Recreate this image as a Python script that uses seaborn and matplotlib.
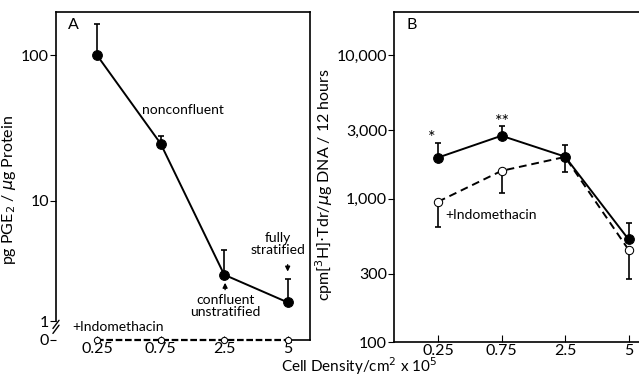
import numpy as np
import pandas as pd
import matplotlib
matplotlib.use("Agg")
import matplotlib.pyplot as plt
import seaborn as sns

# data
density_labels = ["0.25", "0.75", "2.5", "5"]
pge2_control = [100, 24.7, 3.1, 2.0]
pge2_control_err = [63, 3.0, 1.5, 0.9]
pge2_indo = [0, 0, 0, 0]
tdr_control = [1930, 2740, 1960, 520]
tdr_control_err = [520, 470, 410, 160]
tdr_indo = [950, 1560, 1950, 440]
tdr_indo_err = [320, 460, 430, 165]

pos = np.arange(len(density_labels))
dfA = pd.DataFrame({"pos": pos, "control": pge2_control, "indo": pge2_indo})
dfB = pd.DataFrame({"pos": pos, "control": tdr_control, "indo": tdr_indo})

sns.set_style("ticks")
plt.rcParams["font.family"] = ["Lato", "DejaVu Sans"]
plt.rcParams["axes.linewidth"] = 1.2
for k in ["text.color", "axes.labelcolor", "xtick.color", "ytick.color", "axes.edgecolor"]:
    plt.rcParams[k] = "black"

# broken log scale for panel A: log above 2, compressed linear part down to 0
def fwd(v):
    v = np.asarray(v, dtype=float)
    return np.where(v >= 2, np.log10(np.maximum(v, 2)), 0.043 + 0.129 * v)

def inv(t):
    t = np.asarray(t, dtype=float)
    return np.where(t >= np.log10(2), 10 ** np.minimum(t, 10), (t - 0.043) / 0.129)

fig = plt.figure(figsize=(6.39, 3.79), dpi=100)
axA = fig.add_axes([0.0876, 0.103, 0.398, 0.865])
axB = fig.add_axes([0.6166, 0.0976, 0.3834, 0.871])

# ---- panel A
sns.lineplot(data=dfA, x="pos", y="control", ax=axA, color="black", lw=1.4,
             marker="o", markersize=7, markeredgecolor="black")
axA.errorbar(pos, pge2_control, yerr=[np.zeros(4), pge2_control_err], fmt="none",
             ecolor="black", elinewidth=1.2, capsize=2.5, capthick=1.2)
sns.lineplot(data=dfA, x="pos", y="indo", ax=axA, color="black", lw=1.6,
             linestyle=(0, (3, 1.2)), marker="o", markersize=4.5,
             markerfacecolor="white", markeredgecolor="black", clip_on=False, zorder=5)
axA.set_yscale("function", functions=(fwd, inv))
axA.set_ylim(0, 198)
axA.set_xlim(-0.646, 3.354)
axA.set_yticks([0, 1, 10, 100])
axA.set_yticklabels(["0", "1", "10", "100"])
axA.yaxis.set_minor_locator(matplotlib.ticker.NullLocator())
axA.set_xticks(pos)
axA.set_xticklabels(density_labels)
axA.tick_params(axis="x", direction="in", length=3, labelsize=11.5, pad=1.5)
axA.tick_params(axis="y", direction="out", length=4, labelsize=11.5, pad=1)
axA.spines["left"].set_bounds(1, 198)
axA.spines["bottom"].set_bounds(3, 3.354)
axA.set_xlabel("")
axA.set_ylabel("pg PGE$_2$ / $\\mu$g Protein", fontsize=11.5)
axA.yaxis.set_label_coords(-0.15, 0.457)
# break marks
axA.plot([-0.012, 0.012], [0.035, 0.06], color="black", lw=1, transform=axA.transAxes, clip_on=False)
axA.plot([-0.012, 0.012], [0.02, 0.045], color="black", lw=1, transform=axA.transAxes, clip_on=False)

axA.text(0.047, 0.96, "A", transform=axA.transAxes, fontsize=11.5, ha="left", va="center")
axA.text(0.5, 0.701, "nonconfluent", transform=axA.transAxes, fontsize=10, ha="center", va="center")
axA.text(0.665, 0.104, "confluent\nunstratified", transform=axA.transAxes, fontsize=10,
         ha="center", va="center", linespacing=1.0)
axA.annotate("", xy=(0.665, 0.183), xytext=(0.665, 0.145), xycoords="axes fraction",
             arrowprops=dict(arrowstyle="-|>", color="black", lw=1, mutation_scale=7))
axA.text(0.874, 0.293, "fully\nstratified", transform=axA.transAxes, fontsize=10,
         ha="center", va="center", linespacing=1.0)
axA.annotate("", xy=(0.911, 0.2), xytext=(0.911, 0.238), xycoords="axes fraction",
             arrowprops=dict(arrowstyle="-|>", color="black", lw=1, mutation_scale=7))
axA.text(0.244, 0.04, "+Indomethacin", transform=axA.transAxes, fontsize=10,
         ha="center", va="center")

# ---- panel B
sns.lineplot(data=dfB, x="pos", y="control", ax=axB, color="black", lw=1.4,
             marker="o", markersize=7, markeredgecolor="black", zorder=4)
axB.errorbar(pos, tdr_control, yerr=[np.zeros(4), tdr_control_err], fmt="none",
             ecolor="black", elinewidth=1.2, capsize=2.5, capthick=1.2)
sns.lineplot(data=dfB, x="pos", y="indo", ax=axB, color="black", lw=1.4,
             linestyle=(0, (4, 2.5)), marker="o", markersize=6,
             markerfacecolor="white", markeredgecolor="black", zorder=3)
axB.errorbar(pos, tdr_indo, yerr=[tdr_indo_err, np.zeros(4)], fmt="none",
             ecolor="black", elinewidth=1.2, capsize=2.5, capthick=1.2)
axB.set_yscale("log")
axB.set_ylim(100, 20000)
axB.set_xlim(-0.693, 3.165)
axB.set_yticks([100, 300, 1000, 3000, 10000])
axB.set_yticklabels(["100", "300", "1,000", "3,000", "10,000"])
axB.yaxis.set_minor_locator(matplotlib.ticker.NullLocator())
axB.set_xticks(pos)
axB.set_xticklabels(density_labels)
axB.tick_params(axis="x", direction="in", length=5, labelsize=11.5, pad=1.5)
axB.tick_params(axis="y", direction="out", length=4, labelsize=11.5, pad=1)
axB.spines["right"].set_visible(False)
axB.set_xlabel("")
axB.set_ylabel("cpm[$^3$H]$\\cdot$Tdr/$\\mu$g DNA / 12 hours", fontsize=11.5)
axB.yaxis.set_label_coords(-0.24, 0.476)

axB.text(0.049, 0.96, "B", transform=axB.transAxes, fontsize=11.5, ha="left", va="center")
axB.text(0.155, 0.618, "*", transform=axB.transAxes, fontsize=13, ha="center", va="center")
axB.text(0.441, 0.666, "**", transform=axB.transAxes, fontsize=13, ha="center", va="center")
axB.text(0.208, 0.385, "+Indomethacin", transform=axB.transAxes, fontsize=10,
         ha="left", va="center")

fig.text(0.562, 0.004, "Cell Density/cm$^2$ x 10$^5$", fontsize=11, ha="center", va="bottom")

fig.savefig("out.png", dpi=100)
